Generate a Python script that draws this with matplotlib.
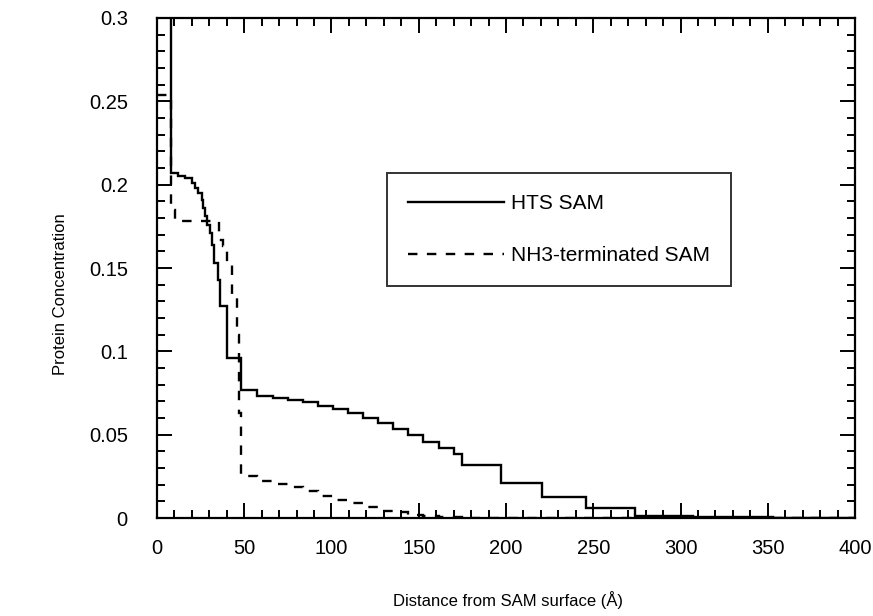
import numpy as np
import matplotlib.pyplot as plt

# bin edges (Angstrom) and concentrations
hts_edges = [0, 7.8, 12, 16, 19.9, 21.8, 23.7, 25.6, 26.5, 27.5, 28.8, 30.4, 31.3,
             32.7, 35.1, 36.1, 40.3, 48.1, 57.5, 66.7, 75.2, 83.8, 92.4, 101, 109.6,
             118.2, 126.8, 135.4, 144, 152.6, 161.8, 170.2, 174.6, 197, 220.4, 245.8,
             274, 307, 353, 400]
hts_conc = [0.35, 0.207, 0.2055, 0.204, 0.201, 0.198, 0.195, 0.191, 0.186, 0.181,
            0.176, 0.171, 0.164, 0.153, 0.143, 0.127, 0.096, 0.0768, 0.0732, 0.0718,
            0.0708, 0.0694, 0.0672, 0.0652, 0.0628, 0.0598, 0.0568, 0.0534, 0.0496,
            0.0458, 0.0418, 0.0384, 0.0318, 0.0212, 0.0128, 0.0058, 0.0015, 0.0005, 0.0]

nh3_edges = [0, 8, 10.5, 35.8, 38, 40, 42.8, 45.7, 47, 48.1, 57.5, 66.7, 75.2, 83.8,
             92.4, 101, 109.6, 118.2, 126.8, 135.4, 144, 152.6, 161.8, 175, 400]
nh3_conc = [0.254, 0.185, 0.178, 0.167, 0.163, 0.152, 0.133, 0.11, 0.063, 0.025,
            0.0225, 0.0205, 0.0188, 0.0165, 0.0135, 0.011, 0.0088, 0.0068, 0.0045,
            0.0035, 0.002, 0.001, 0.0005, 0.0]

legend_labels = ["HTS SAM", "NH3-terminated SAM"]

plt.rcParams['font.family'] = ['Liberation Sans', 'DejaVu Sans']

fig = plt.figure(figsize=(8.73, 6.16), dpi=100)
ax = fig.add_axes([0.1798, 0.159, 0.7996, 0.8118])

ax.stairs(hts_conc, hts_edges, baseline=None, color="black", lw=1.7, label=legend_labels[0])
ax.stairs(nh3_conc, nh3_edges, baseline=None, color="black", lw=1.7,
          linestyle=(0, (4, 4)), label=legend_labels[1])

ax.set_xlim(0, 400)
ax.set_ylim(0, 0.3)
ax.set_xticks(np.arange(0, 401, 50))
ax.set_xticks(np.arange(0, 401, 10), minor=True)
ax.set_yticks(np.arange(0, 0.301, 0.05))
ax.set_yticks(np.arange(0, 0.301, 0.01), minor=True)
ax.set_xticklabels(["0", "50", "100", "150", "200", "250", "300", "350", "400"])
ax.set_yticklabels(["0", "0.05", "0.1", "0.15", "0.2", "0.25", "0.3"])

ax.tick_params(which="both", direction="in", top=True, right=True, width=1.4, labelsize=14.5)
ax.tick_params(which="major", length=10.5)
ax.tick_params(which="minor", length=5.8)
ax.tick_params(axis="x", which="major", pad=15)
ax.tick_params(axis="y", which="major", pad=21)
for s in ax.spines.values():
    s.set_linewidth(1.6)

ax.set_xlabel("Distance from SAM surface (Å)", fontsize=12)
ax.set_ylabel("Protein Concentration", fontsize=12)
ax.xaxis.set_label_coords(0.503, -0.145)
ax.yaxis.set_label_coords(-0.127, 0.448)

leg = ax.legend(loc="upper left", bbox_to_anchor=(0.3295, 0.69), fontsize=15,
                frameon=True, fancybox=False, edgecolor="black", handlelength=4.6,
                handletextpad=0.35, labelspacing=1.6, borderpad=1.0, borderaxespad=0)
leg.get_frame().set_linewidth(1.4)

fig.savefig("out.png", dpi=100)
